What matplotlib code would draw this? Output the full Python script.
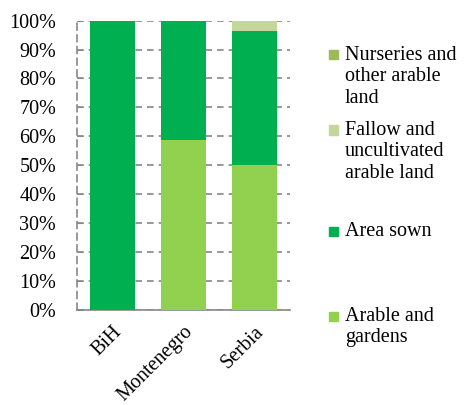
"""Structure of arable land by country (stacked shares)."""
import matplotlib.pyplot as plt
from matplotlib.patches import Rectangle

countries = ["BiH", "Montenegro", "Serbia"]
arable_gardens = [0.0, 58.6, 50.0]
area_sown = [100.0, 41.4, 46.4]
fallow = [0.0, 0.0, 3.5]
nurseries = [0.0, 0.0, 0.1]

series = [
    ("Arable and\ngardens", arable_gardens, "#92D050"),
    ("Area sown", area_sown, "#00B050"),
    ("Fallow and\nuncultivated\narable land", fallow, "#C4D79B"),
    ("Nurseries and\nother arable\nland", nurseries, "#9BBB59"),
]

plt.rcParams["font.family"] = ["Liberation Serif", "DejaVu Serif"]

fig = plt.figure(figsize=(4.66, 4.05), dpi=100)
ax = fig.add_axes([0.165, 0.235, 0.457, 0.714])

x = range(len(countries))
bottom = [0.0] * len(countries)
for label, values, color in series:
    ax.bar(x, values, width=0.64, bottom=bottom, color=color, zorder=3)
    bottom = [b + v for b, v in zip(bottom, values)]

ax.set_xlim(-0.5, 2.5)
ax.set_ylim(0, 100)
ax.set_yticks(range(0, 101, 10))
ax.set_yticklabels([f"{v}%" for v in range(0, 101, 10)], fontsize=14.5)
ax.set_xticks(list(x))
ax.set_xticklabels(countries, rotation=45, ha="right", rotation_mode="anchor", fontsize=14.5)
ax.tick_params(axis="x", length=0, pad=9)
ax.tick_params(axis="y", direction="in", length=4, color="#888888", pad=15)

ax.grid(axis="y", color="#888888", linestyle=(0, (4, 3)), linewidth=1.2, zorder=0)
ax.spines["top"].set_visible(False)
ax.spines["right"].set_visible(False)
ax.spines["left"].set_color("#888888")
ax.spines["left"].set_linestyle((0, (4, 3)))
ax.spines["left"].set_linewidth(1.2)
ax.spines["bottom"].set_color("#888888")
ax.spines["bottom"].set_linewidth(1.2)

# legend, hand placed to keep the original's uneven spacing
legend_y = [316, 231, 130, 55]
for (label, values, color), ypx in zip(series, legend_y):
    yf = 1 - ypx / 405
    fig.patches.append(Rectangle((329 / 466, yf - 4.5 / 405), 9 / 466, 9 / 405,
                                 transform=fig.transFigure, color=color))
    fig.text(345 / 466, yf + 9 / 405, label, fontsize=14.5, va="top", ha="left",
             linespacing=1.17)

plt.savefig("out.png", dpi=100)
